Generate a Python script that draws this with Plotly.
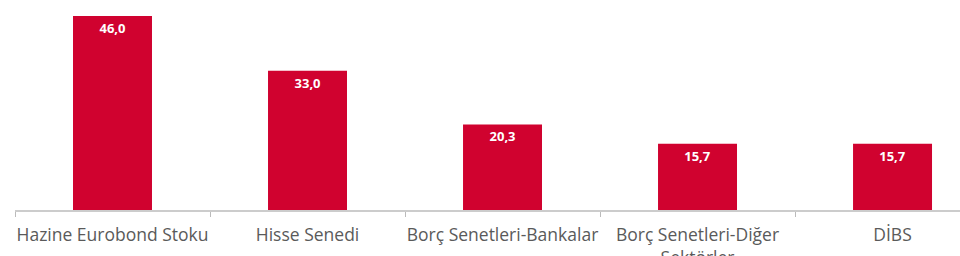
import plotly.graph_objects as go

categories = ["Hazine Eurobond Stoku", "Hisse Senedi", "Borç Senetleri-Bankalar",
              "Borç Senetleri-Diğer<br>Sektörler", "DİBS"]
values = [46.0, 33.0, 20.3, 15.7, 15.7]
labels = [f"{v:.1f}".replace(".", ",") for v in values]

fig = go.Figure(go.Bar(
    x=categories, y=values, text=labels,
    textposition="inside", insidetextanchor="end",
    textangle=0,
    textfont=dict(family="Open Sans", size=13, color="white", weight="bold"),
    marker=dict(color="#d0022f", line=dict(width=0)),
    width=0.405,
))

fig.update_layout(
    width=960, height=256,
    margin=dict(l=15, r=0, t=0, b=46),
    plot_bgcolor="white", paper_bgcolor="white",
    showlegend=False,
    uniformtext=dict(minsize=13, mode="show"),
)
fig.update_xaxes(
    type="category", range=[-0.5, 4.346],
    showline=True, linecolor="#cccccc", linewidth=1.5,
    ticks="outside", tickson="boundaries", ticklen=5, tickcolor="#bbbbbb",
    tickfont=dict(family="Open Sans", size=17.5, color="#5a5a5a"),
    tickangle=0, automargin=False,
    ticklabelstandoff=8,
    showgrid=False,
)
fig.update_yaxes(range=[0, 49.8], visible=False, showgrid=False, automargin=False)

fig.write_html("out.html")
